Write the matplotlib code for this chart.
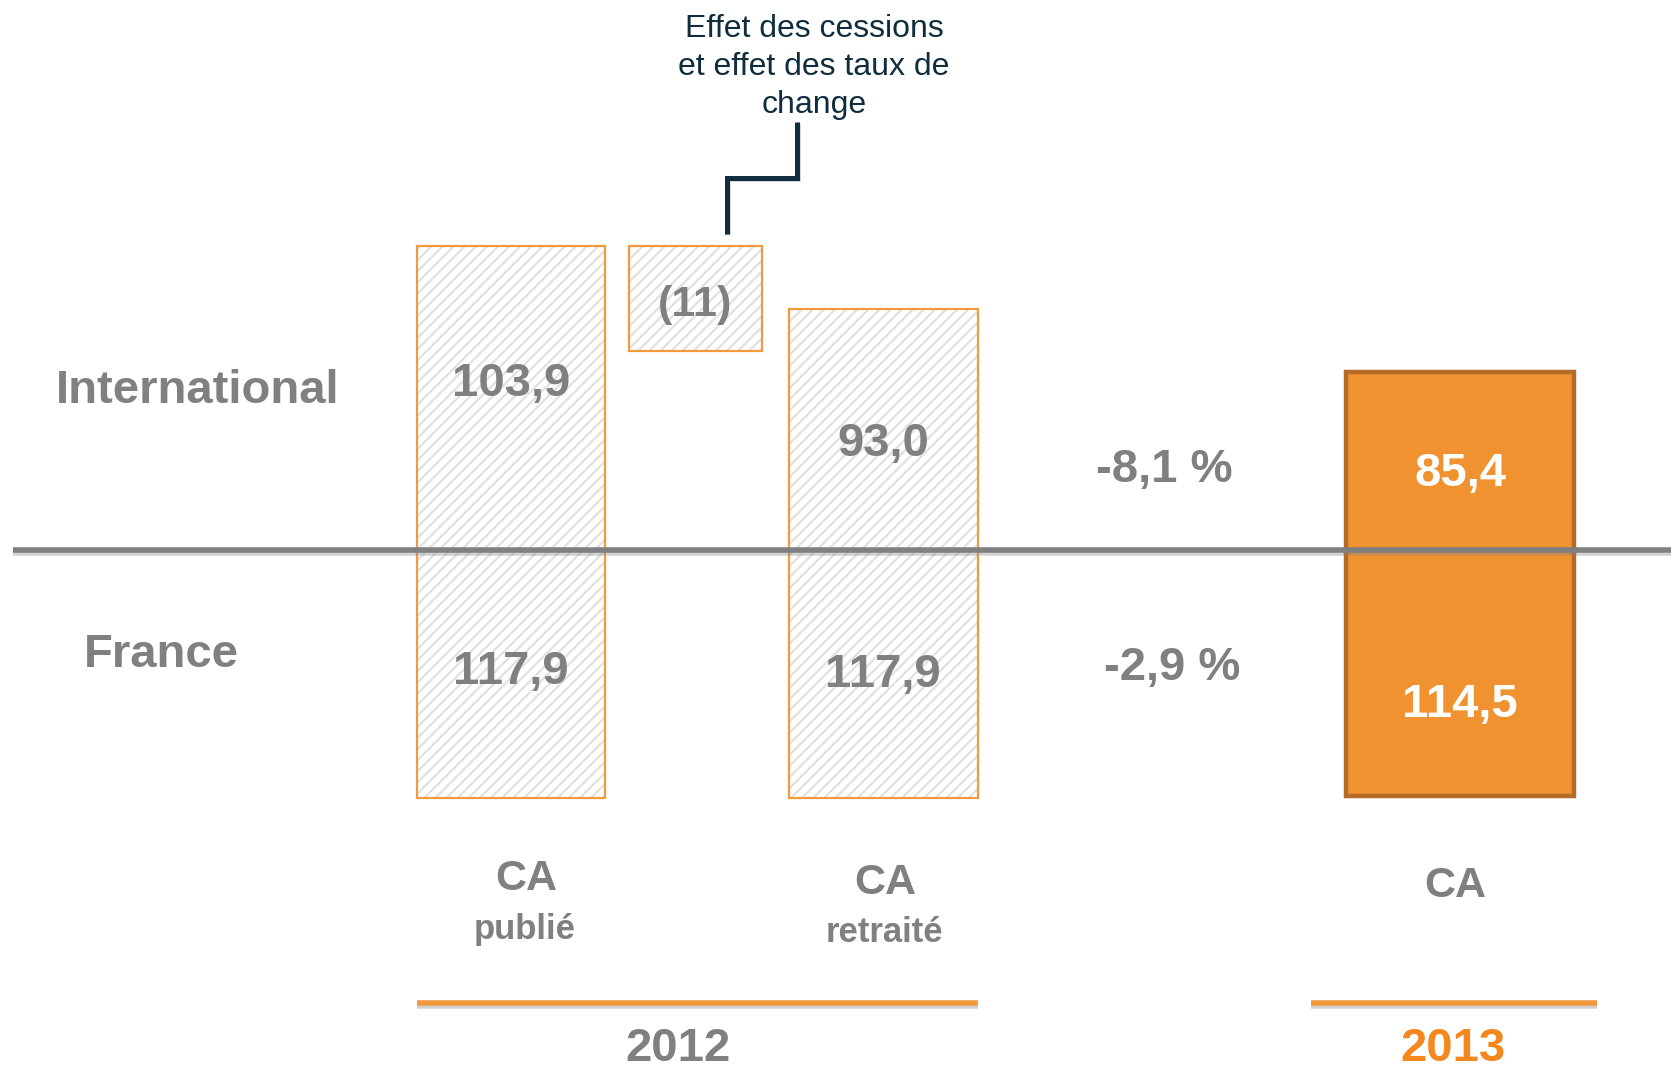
import matplotlib
matplotlib.use("Agg")
import matplotlib.pyplot as plt
import matplotlib.patheffects as pe

# ---------------- data ----------------
categories = ["CA\npublié", "Effet", "CA\nretraité", "CA"]
years = ["2012", "2013"]
segments = ["International", "France"]

intl_values = [103.9, 93.0, 85.4]      # CA publié 2012, CA retraité 2012, CA 2013
france_values = [117.9, 117.9, 114.5]
effect_value = -11                      # effet des cessions et des taux de change
intl_growth = -8.1                      # %
france_growth = -2.9                    # %

# bar extents as drawn on the source slide (schematic, not to scale)
intl_drawn = [145, 115, 85]
france_drawn = [118, 118, 117]
effect_drawn = 50

# ---------------- style ----------------
GRAY = "#808080"
ORANGE_EDGE = "#F29A3E"
ORANGE_FILL = "#F0922F"
ORANGE_DARK = "#B56B28"
ORANGE_TXT = "#F4871E"
NAVY = "#0F2D3D"
HATCH = "#e1e1e1"
FONT = "Liberation Sans"

plt.rcParams["hatch.linewidth"] = 1.6
plt.rcParams["font.family"] = [FONT, "DejaVu Sans"]

W, H = 1671, 1069
BASE = 550          # pixel row of the baseline
SCALE = 2.1         # pixels per drawn unit

fig = plt.figure(figsize=(W / 100, H / 100), dpi=100)
ax = fig.add_axes([0, 0, 1, 1])
ax.set_xlim(0, W)
ax.set_ylim(-(H - BASE) / SCALE, BASE / SCALE)
ax.axis("off")


def yu(px):
    """convert a pixel row (from top) to axis units"""
    return (BASE - px) / SCALE


# layout of the bars
centers = [511, 883, 1460]
widths = [188, 189, 228]
eff_center, eff_width = 695.5, 133

# 2012 hatched bars
for i in range(2):
    for h in (intl_drawn[i], -france_drawn[i]):
        ax.bar(centers[i], h, width=widths[i], color="white", edgecolor=HATCH,
               hatch="///", linewidth=0, zorder=1)
        ax.bar(centers[i], h, width=widths[i], fill=False, edgecolor=ORANGE_EDGE,
               linewidth=1.6, zorder=2)

# effect box
eff_bottom = intl_drawn[0] - effect_drawn
ax.bar(eff_center, effect_drawn, bottom=eff_bottom, width=eff_width, color="white",
       edgecolor=HATCH, hatch="///", linewidth=0, zorder=1)
ax.bar(eff_center, effect_drawn, bottom=eff_bottom, width=eff_width, fill=False,
       edgecolor=ORANGE_EDGE, linewidth=1.6, zorder=2)

# 2013 solid bar
ax.bar(centers[2], intl_drawn[2], width=widths[2], color=ORANGE_FILL,
       edgecolor=ORANGE_DARK, linewidth=3.2, zorder=2)
ax.bar(centers[2], -france_drawn[2], width=widths[2], color=ORANGE_FILL,
       edgecolor=ORANGE_DARK, linewidth=3.2, zorder=2)

# baseline
ax.plot([13, W], [0, 0], color=GRAY, lw=4.0, solid_capstyle="butt", zorder=5,
        path_effects=[pe.SimpleLineShadow(offset=(0, -2), shadow_color="gray", alpha=0.35),
                      pe.Normal()])


def fmt(v):
    return f"{v:.1f}".replace(".", ",")


big = dict(fontsize=34, fontweight="bold", ha="center", va="center", zorder=6)
D = 4  # vertical nudge (px)

# segment names
ax.text(198, yu(387 + D), segments[0], color=GRAY, **big)
ax.text(161, yu(651 + D), segments[1], color=GRAY, **big)

# value labels
ax.text(centers[0], yu(380 + D), fmt(intl_values[0]), color=GRAY, **big)
ax.text(centers[0], yu(668 + D), fmt(france_values[0]), color=GRAY, **big)
ax.text(centers[1], yu(440 + D), fmt(intl_values[1]), color=GRAY, **big)
ax.text(centers[1], yu(671 + D), fmt(france_values[1]), color=GRAY, **big)
ax.text(centers[2], yu(470 + D), fmt(intl_values[2]), color="white", **big)
ax.text(centers[2], yu(701 + D), fmt(france_values[2]), color="white", **big)
ax.text(eff_center, yu(301 + D), f"({abs(effect_value)})", color=GRAY, fontsize=31,
        fontweight="bold", ha="center", va="center", zorder=6)

# growth
ax.text(1164, yu(466 + D), f"{fmt(intl_growth)} %", color=GRAY, **big)
ax.text(1172, yu(664 + D), f"{fmt(france_growth)} %", color=GRAY, **big)

# category labels
cat_x = [526, 885, 1455]
cat_y = [875, 879, 882]
cat_labels = [categories[0], categories[2], categories[3]]
for x, y, lab in zip(cat_x, cat_y, cat_labels):
    parts = lab.split("\n")
    ax.text(x, yu(y + D), parts[0], color=GRAY, fontsize=31, fontweight="bold",
            ha="center", va="center")
    if len(parts) > 1:
        ax.text(x - 1, yu(y + 50 + D), parts[1], color=GRAY, fontsize=25,
                fontweight="bold", ha="center", va="center")

# year underlines
shadow = [pe.SimpleLineShadow(offset=(0, -2), shadow_color="gray", alpha=0.35), pe.Normal()]
ax.plot([417, 978], [yu(1003)] * 2, color=ORANGE_EDGE, lw=4.0, solid_capstyle="butt",
        path_effects=shadow)
ax.plot([1311, 1597], [yu(1003)] * 2, color=ORANGE_EDGE, lw=4.0, solid_capstyle="butt",
        path_effects=shadow)
ax.text(678, yu(1061), years[0], color=GRAY, fontsize=34, fontweight="bold",
        ha="center", va="baseline")
ax.text(1453, yu(1061), years[1], color=ORANGE_TXT, fontsize=34, fontweight="bold",
        ha="center", va="baseline")

# callout
ax.text(814, yu(67), "Effet des cessions\net effet des taux de\nchange", color=NAVY,
        fontsize=23, ha="center", va="center", linespacing=1.33)
ax.plot([727, 727, 797, 797], [yu(234), yu(178), yu(178), yu(122)], color=NAVY,
        lw=3.6, solid_joinstyle="miter", solid_capstyle="butt",
        path_effects=[pe.SimpleLineShadow(offset=(1, -1), shadow_color="gray", alpha=0.3),
                      pe.Normal()])

fig.savefig("out.png", dpi=100)
